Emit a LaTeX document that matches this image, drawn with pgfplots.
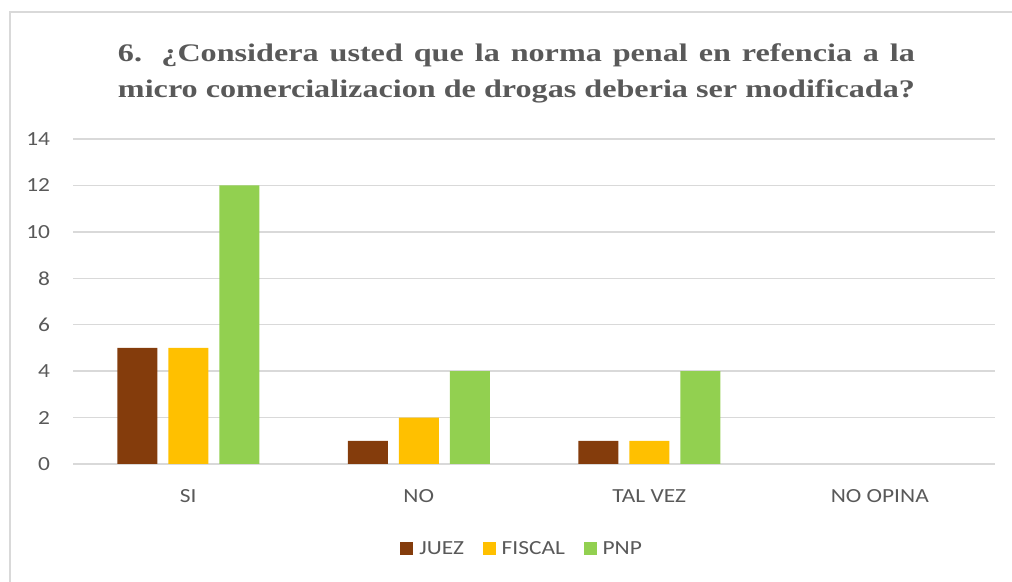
\documentclass[border=0pt]{standalone}
\usepackage{graphicx}
\usepackage{pgfplots}
\pgfplotsset{compat=1.18}
\usepackage{fontspec}
\setmainfont{Carlito}
\newfontfamily\titlefont{Liberation Serif}
\definecolor{juez}{HTML}{843C0C}
\definecolor{fiscal}{HTML}{FFC000}
\definecolor{pnp}{HTML}{92D050}
\definecolor{txt}{HTML}{595959}
\definecolor{gridc}{HTML}{D9D9D9}
\newcommand\tf{\titlefont\bfseries\fontsize{19}{23}\selectfont\color{txt}}
\newcommand\sx[1]{\scalebox{1.17}[1]{#1}}
\newsavebox\lineTwo
\begin{document}%
\sbox\lineTwo{\tf micro comercializacion de drogas deberia ser modificada?}%
\begin{tikzpicture}[x=0.75pt,y=0.75pt]
\path[use as bounding box] (0,0) rectangle (1012,581);
\draw[gridc, line width=1pt] (10,-10) -- (10,569) -- (1030,569);
\node[anchor=base, inner sep=0pt, text=txt] at (516.5,519) {\resizebox{597.75pt}{\height}{\makebox[\wd\lineTwo][s]{\tf 6. ¿Considera usted que la norma penal en refencia a la}}};
\node[anchor=base, inner sep=0pt, text=txt] at (516.5,483) {\resizebox{597.75pt}{\height}{\usebox\lineTwo}};
\begin{axis}[
  at={(54.75pt,87.75pt)}, anchor=south west,
  scale only axis, width=691.5pt, height=243.75pt,
  ybar=8.25pt, bar width=30pt,
  xmin=-0.5, xmax=3.5, ymin=0, ymax=14,
  xtick={0,1,2,3}, xticklabels={\sx{SI},\sx{NO},\sx{TAL VEZ},\sx{NO OPINA}},
  ytick={0,2,...,14},
  yticklabel={\sx{\pgfmathprintnumber{\tick}}},
  ymajorgrids, grid style={gridc, line width=1pt},
  axis line style={draw=none},
  major tick length=0pt,
  tick label style={text=txt, font=\fontsize{15}{18}\selectfont},
  /pgf/number format/assume math mode=true,
  yticklabel style={anchor=east, inner sep=0pt, xshift=-17pt},
  xticklabel style={anchor=north, inner sep=0pt, yshift=-19pt},
  legend style={draw=none, at={(0.486,-0.2615)}, anchor=center, legend columns=3, font=\fontsize{15}{18}\selectfont, text=txt, nodes={inner sep=0pt},
    /tikz/every odd column/.append style={column sep=4.5pt},
    /tikz/every even column/.append style={column sep=14pt}},
  legend image code/.code={\fill[#1] (0pt,-4.875pt) rectangle (9.75pt,4.875pt);},
]
\addplot[fill=juez, draw=none] coordinates {(0,5) (1,1) (2,1)};
\addlegendentry{\sx{JUEZ}}
\addplot[fill=fiscal, draw=none] coordinates {(0,5) (1,2) (2,1)};
\addlegendentry{\sx{FISCAL}}
\addplot[fill=pnp, draw=none] coordinates {(0,12) (1,4) (2,4)};
\addlegendentry{\sx{PNP}}
\end{axis}
\end{tikzpicture}%
\end{document}
